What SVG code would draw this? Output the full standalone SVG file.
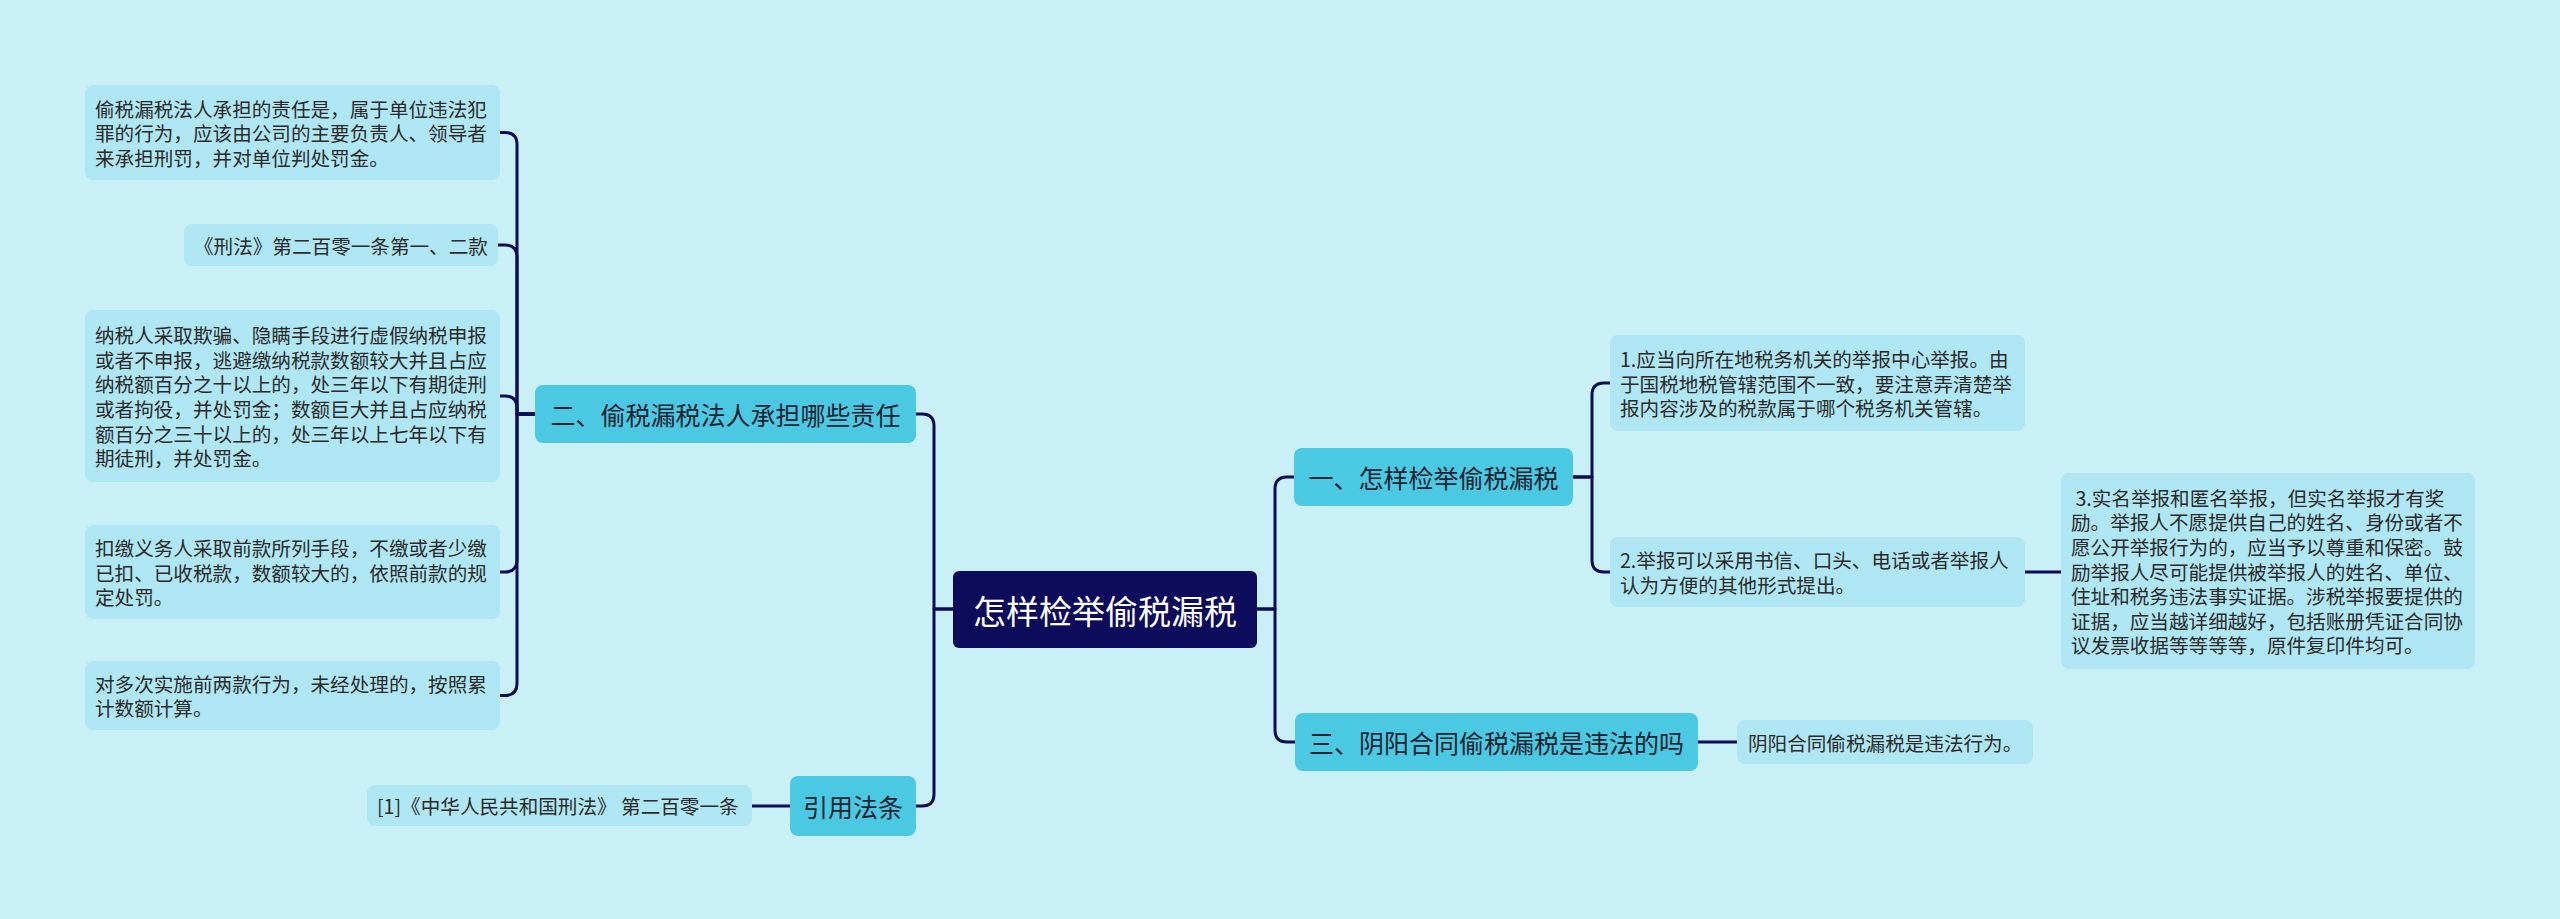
<svg xmlns="http://www.w3.org/2000/svg" width="2560" height="919" viewBox="0 0 2560 919">
<style>
.bg{fill:#c9f0f7}
.leaf{fill:#aee6f3}
.branch{fill:#4bc8e2}
.center{fill:#0c0b5c}
.lt{font-family:"Noto Sans CJK SC","Noto Sans",sans-serif;font-size:19.6px;fill:#2a2a2a;dominant-baseline:central;white-space:pre}
.bt{font-family:"Noto Sans CJK SC","Noto Sans",sans-serif;font-size:25px;fill:#1c2330;dominant-baseline:central;text-anchor:middle}
.ct{font-family:"Noto Sans CJK SC","Noto Sans",sans-serif;font-size:33px;fill:#ffffff;dominant-baseline:central;text-anchor:middle}
.conn path{fill:none;stroke:#0d0c55;stroke-width:3;stroke-linecap:round;stroke-linejoin:round}
</style>
<rect class="bg" x="0" y="0" width="2560" height="919"/>
<g class="conn" id="connectors">
<path d="M953,609 H934 V426 Q934,414 922,414 H916"/>
<path d="M953,609 H934 V794 Q934,806 922,806 H916"/>
<path d="M1257,609 H1275 V489 Q1275,477 1287,477 H1294"/>
<path d="M1257,609 H1275 V730 Q1275,742 1287,742 H1295"/>
<path d="M535,414 H517 V144.5 Q517,132.5 505,132.5 H500"/>
<path d="M535,414 H517 V257 Q517,245 505,245 H498"/>
<path d="M535,414 H517 V408 Q517,396 505,396 H500"/>
<path d="M535,414 H517 V560 Q517,572 505,572 H500"/>
<path d="M535,414 H517 V683.5 Q517,695.5 505,695.5 H500"/>
<path d="M790,806 H752"/>
<path d="M1573,477 H1592 V395 Q1592,383 1604,383 H1610"/>
<path d="M1573,477 H1592 V560 Q1592,572 1604,572 H1610"/>
<path d="M2025,572 H2061"/>
<path d="M1698,742 H1737"/>
</g>
<g id="center">
<rect class="center" x="953" y="571" width="304" height="77" rx="6"/>
<text class="ct" x="1105" y="609.5">怎样检举偷税漏税</text>
</g>
<g id="branch-2">
<rect class="branch" x="535" y="385" width="381" height="58" rx="8"/>
<text class="bt" x="725.5" y="414">二、偷税漏税法人承担哪些责任</text>
</g>
<g id="branch-ref">
<rect class="branch" x="790" y="776" width="126" height="60" rx="8"/>
<text class="bt" x="853" y="806">引用法条</text>
</g>
<g id="branch-1">
<rect class="branch" x="1294" y="448" width="279" height="58" rx="8"/>
<text class="bt" x="1433.5" y="477">一、怎样检举偷税漏税</text>
</g>
<g id="branch-3">
<rect class="branch" x="1295" y="713" width="403" height="58" rx="8"/>
<text class="bt" x="1496.5" y="742">三、阴阳合同偷税漏税是违法的吗</text>
</g>
<g id="leaf-l1">
<rect class="leaf" x="85" y="85" width="415" height="95" rx="8"/>
<text class="lt" x="95" y="108">偷税漏税法人承担的责任是，属于单位违法犯</text>
<text class="lt" x="95" y="132.5">罪的行为，应该由公司的主要负责人、领导者</text>
<text class="lt" x="95" y="157">来承担刑罚，并对单位判处罚金。</text>
</g>
<g id="leaf-l2">
<rect class="leaf" x="184" y="224" width="314" height="42" rx="8"/>
<text class="lt" x="194" y="245">《刑法》第二百零一条第一、二款</text>
</g>
<g id="leaf-l3">
<rect class="leaf" x="85" y="310" width="415" height="172" rx="8"/>
<text class="lt" x="95" y="334.5">纳税人采取欺骗、隐瞒手段进行虚假纳税申报</text>
<text class="lt" x="95" y="359">或者不申报，逃避缴纳税款数额较大并且占应</text>
<text class="lt" x="95" y="383.7">纳税额百分之十以上的，处三年以下有期徒刑</text>
<text class="lt" x="95" y="408.3">或者拘役，并处罚金；数额巨大并且占应纳税</text>
<text class="lt" x="95" y="433">额百分之三十以上的，处三年以上七年以下有</text>
<text class="lt" x="95" y="457.5">期徒刑，并处罚金。</text>
</g>
<g id="leaf-l4">
<rect class="leaf" x="85" y="525" width="415" height="94" rx="8"/>
<text class="lt" x="95" y="547.5">扣缴义务人采取前款所列手段，不缴或者少缴</text>
<text class="lt" x="95" y="572">已扣、已收税款，数额较大的，依照前款的规</text>
<text class="lt" x="95" y="596.5">定处罚。</text>
</g>
<g id="leaf-l5">
<rect class="leaf" x="85" y="661" width="415" height="69" rx="8"/>
<text class="lt" x="95" y="683.2">对多次实施前两款行为，未经处理的，按照累</text>
<text class="lt" x="95" y="707.8">计数额计算。</text>
</g>
<g id="leaf-ref">
<rect class="leaf" x="367" y="785" width="385" height="41" rx="8"/>
<text class="lt" x="377" y="805.5">[1]《中华人民共和国刑法》 第二百零一条</text>
</g>
<g id="leaf-r1">
<rect class="leaf" x="1610" y="335" width="415" height="96" rx="8"/>
<text class="lt" x="1620" y="358.5">1.应当向所在地税务机关的举报中心举报。由</text>
<text class="lt" x="1620" y="383">于国税地税管辖范围不一致，要注意弄清楚举</text>
<text class="lt" x="1620" y="407.5">报内容涉及的税款属于哪个税务机关管辖。</text>
</g>
<g id="leaf-r2">
<rect class="leaf" x="1610" y="537" width="415" height="70" rx="8"/>
<text class="lt" x="1620" y="559.7">2.举报可以采用书信、口头、电话或者举报人</text>
<text class="lt" x="1620" y="584.3">认为方便的其他形式提出。</text>
</g>
<g id="leaf-r3">
<rect class="leaf" x="2061" y="473" width="414" height="196" rx="8"/>
<text class="lt" x="2071" y="497.2"> 3.实名举报和匿名举报，但实名举报才有奖</text>
<text class="lt" x="2071" y="521.8">励。举报人不愿提供自己的姓名、身份或者不</text>
<text class="lt" x="2071" y="546.4">愿公开举报行为的，应当予以尊重和保密。鼓</text>
<text class="lt" x="2071" y="571">励举报人尽可能提供被举报人的姓名、单位、</text>
<text class="lt" x="2071" y="595.6">住址和税务违法事实证据。涉税举报要提供的</text>
<text class="lt" x="2071" y="620.2">证据，应当越详细越好，包括账册凭证合同协</text>
<text class="lt" x="2071" y="644.8">议发票收据等等等等，原件复印件均可。</text>
</g>
<g id="leaf-r4">
<rect class="leaf" x="1737" y="720" width="296" height="44" rx="8"/>
<text class="lt" x="1748" y="742">阴阳合同偷税漏税是违法行为。</text>
</g>
</svg>
